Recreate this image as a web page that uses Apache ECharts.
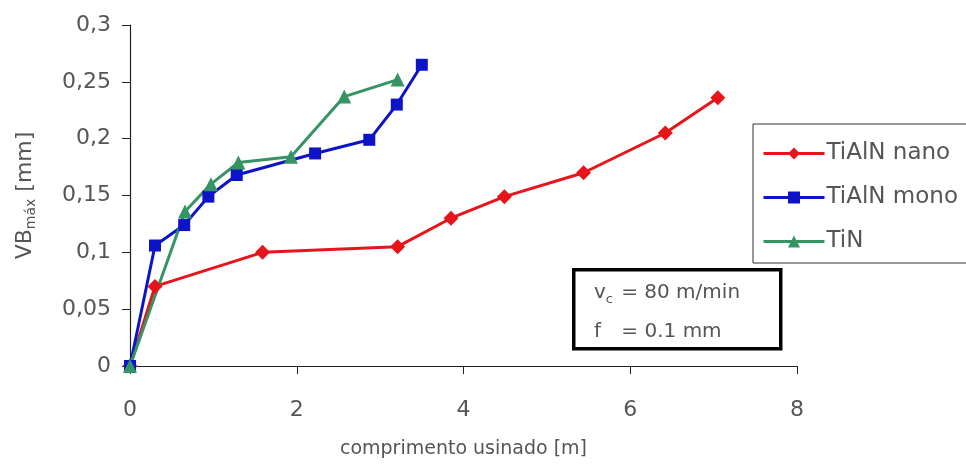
<!DOCTYPE html>
<html>
<head>
<meta charset="utf-8">
<script src="https://cdn.jsdelivr.net/npm/echarts@6/dist/echarts.min.js"></script>
<style>
  html, body { margin: 0; padding: 0; background: #fff; }
  #chart { width: 966px; height: 471px; }
</style>
</head>
<body>
<div id="chart"></div>
<script>
// Tool wear (VBmax) vs. machined length for three coatings
const nanoLen  = [0, 0.30, 1.59, 3.21, 3.85, 4.49, 5.44, 6.42, 7.05];
const nanoVB   = [0, 0.070, 0.100, 0.105, 0.130, 0.149, 0.170, 0.205, 0.236];

const monoLen  = [0, 0.30, 0.65, 0.94, 1.28, 2.22, 2.87, 3.20, 3.50];
const monoVB   = [0, 0.106, 0.124, 0.149, 0.168, 0.187, 0.199, 0.230, 0.265];

const tinLen   = [0, 0.66, 0.97, 1.30, 1.93, 2.57, 3.21];
const tinVB    = [0, 0.136, 0.160, 0.179, 0.184, 0.237, 0.252];

const seriesNames = ['TiAlN nano', 'TiAlN mono', 'TiN'];
const yTickLabels = ['0', '0,05', '0,1', '0,15', '0,2', '0,25', '0,3'];
const xTickLabels = ['0', '2', '4', '6', '8'];

const FONT = '"DejaVu Sans ExtraLight", "DejaVu Sans", sans-serif';
const TXT = '#555555';

function pairs(xs, ys) { return xs.map((x, i) => [x, ys[i]]); }

const chart = echarts.init(document.getElementById('chart'), null, { renderer: 'canvas' });

const lineSeries = (name, data, color, symbol, size) => ({
  name, type: 'line', data,
  symbol, symbolSize: size,
  lineStyle: { color, width: 3 },
  itemStyle: { color },
  emphasis: { disabled: true },
  animation: false
});

chart.setOption({
  backgroundColor: '#ffffff',
  textStyle: { fontFamily: FONT },
  grid: { left: 130, right: 169, top: 25, bottom: 105, containLabel: false },
  xAxis: {
    type: 'value', min: 0, max: 8, interval: 2,
    name: 'comprimento usinado [m]',
    nameLocation: 'middle', nameGap: 74,
    nameTextStyle: { fontSize: 19, color: TXT, fontFamily: FONT },
    axisLine: { lineStyle: { color: '#222', width: 1.2 } },
    axisTick: { show: true, length: 8, inside: false, lineStyle: { color: '#222' } },
    axisLabel: {
      margin: 33, fontSize: 22, color: TXT, fontFamily: FONT,
      formatter: v => xTickLabels[Math.round(v / 2)]
    },
    splitLine: { show: false }
  },
  yAxis: {
    type: 'value', min: 0, max: 0.3, interval: 0.05,
    name: '{a|VB}{s|máx}{a| [mm]}',
    nameLocation: 'middle', nameGap: 92, nameRotate: 90,
    nameTextStyle: {
      color: TXT, fontFamily: FONT,
      rich: {
        a: { fontSize: 22, color: TXT, fontFamily: FONT },
        s: { fontSize: 14, color: TXT, fontFamily: FONT, padding: [11, 0, 0, 0] }
      }
    },
    axisLine: { show: true, lineStyle: { color: '#222', width: 1.2 } },
    axisTick: { show: true, length: 8, inside: false, lineStyle: { color: '#222' } },
    axisLabel: {
      margin: 19, fontSize: 22, color: TXT, fontFamily: FONT,
      formatter: v => yTickLabels[Math.round(v / 0.05)]
    },
    splitLine: { show: false }
  },
  legend: {
    orient: 'vertical',
    left: 753, top: 124,
    data: seriesNames,
    backgroundColor: '#ffffff',
    borderColor: '#333',
    borderWidth: 1,
    padding: [18, 80, 10, 9],
    itemWidth: 61, itemHeight: 15, itemGap: 21,
    lineStyle: { width: 3 },
    textStyle: { fontSize: 23, color: TXT, fontFamily: FONT, padding: [0, 0, 0, -3] },
    selectedMode: false
  },
  graphic: [
    {
      type: 'rect', left: 572, top: 268, z: 10,
      shape: { width: 207, height: 79 },
      style: { fill: '#ffffff', stroke: '#000', lineWidth: 3.5 }
    },
    {
      type: 'text', left: 594, top: 279, z: 11,
      style: {
        text: '{v|v}{s|c}{t| = 80 m/min}\n{f|f}{t| = 0.1 mm}',
        fill: TXT, fontFamily: FONT,
        rich: {
          v: { fontSize: 20, fill: TXT, fontFamily: FONT, lineHeight: 39 },
          f: { fontSize: 20, fill: TXT, fontFamily: FONT, lineHeight: 39, width: 21 },
          t: { fontSize: 20, fill: TXT, fontFamily: FONT, lineHeight: 39 },
          s: { fontSize: 13, fill: TXT, fontFamily: FONT, padding: [14, 0, 0, 0], width: 9, lineHeight: 39 }
        }
      }
    }
  ],
  series: [
    lineSeries(seriesNames[0], pairs(nanoLen, nanoVB), '#e8141b', 'diamond', 15),
    lineSeries(seriesNames[1], pairs(monoLen, monoVB), '#0d14c8', 'rect', 12),
    lineSeries(seriesNames[2], pairs(tinLen, tinVB), '#359463', 'triangle', 14)
  ]
});
</script>
</body>
</html>
